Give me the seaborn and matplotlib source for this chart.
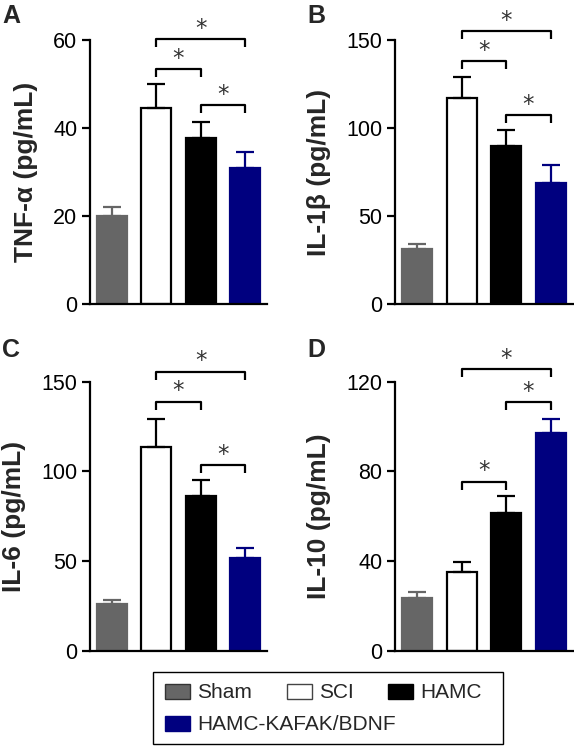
import matplotlib
matplotlib.use("Agg")
import matplotlib.pyplot as plt
from matplotlib.patches import Patch, Rectangle
import seaborn as sns
import pandas as pd

groups = ["Sham", "SCI", "HAMC", "HAMC-KAFAK/BDNF"]
colors = ["#666666", "#ffffff", "#000000", "#00007f"]
edges = ["#666666", "#000000", "#000000", "#00007f"]
err_colors = ["#666666", "#000000", "#000000", "#00007f"]

# panel values (mean, upper error end)
tnf_mean = [20.0, 44.5, 37.8, 30.8]
tnf_top = [22.0, 50.0, 41.3, 34.5]
il1b_mean = [31.0, 117.0, 89.5, 68.5]
il1b_top = [34.0, 129.0, 99.0, 79.0]
il6_mean = [26.0, 113.5, 86.5, 51.5]
il6_top = [28.5, 129.0, 95.0, 57.5]
il10_mean = [23.5, 35.0, 61.5, 97.0]
il10_top = [26.0, 39.5, 69.0, 103.5]

# significance brackets: (group i, group j, height)
tnf_sig = [(1, 3, 60.2), (1, 2, 53.4), (2, 3, 45.2)]
il1b_sig = [(1, 3, 155.0), (1, 2, 138.0), (2, 3, 107.4)]
il6_sig = [(1, 3, 155.6), (1, 2, 138.8), (2, 3, 103.5)]
il10_sig = [(1, 3, 125.5), (2, 3, 111.0), (1, 2, 75.4)]

panels = [
    ("A", "TNF-\u03b1 (pg/mL)", tnf_mean, tnf_top, tnf_sig, [0, 20, 40, 60]),
    ("B", "IL-1\u03b2 (pg/mL)", il1b_mean, il1b_top, il1b_sig, [0, 50, 100, 150]),
    ("C", "IL-6 (pg/mL)", il6_mean, il6_top, il6_sig, [0, 50, 100, 150]),
    ("D", "IL-10 (pg/mL)", il10_mean, il10_top, il10_sig, [0, 40, 80, 120]),
]

sns.set_theme(style="ticks")
plt.rcParams["font.family"] = ["Liberation Sans", "DejaVu Sans"]

fig = plt.figure(figsize=(5.74, 7.46), dpi=100)
W, H = 574, 746
boxes = [
    (90, 40, 177, 264),
    (395, 40, 178, 264),
    (90, 381.7, 177, 269),
    (395, 381.7, 178, 269),
]
letter_pos = [(2, 4), (307, 4), (2, 338), (307, 338)]

lw = 1.6
for (letter, ylabel, mean, top, sig, ticks), (x0, y0, w, h), (lx, ly) in zip(panels, boxes, letter_pos):
    ax = fig.add_axes([x0 / W, 1 - (y0 + h) / H, w / W, h / H])
    df = pd.DataFrame({"group": groups, "value": mean})
    sns.barplot(data=df, x="group", y="value", hue="group", palette=colors,
                order=groups, hue_order=groups, width=0.68, legend=False,
                errorbar=None, ax=ax, linewidth=lw, saturation=1)
    for p, ec in zip(ax.patches, edges):
        p.set_edgecolor(ec)
        p.set_linewidth(lw)
    for i in range(len(groups)):
        ax.errorbar(i, mean[i], yerr=[[0], [top[i] - mean[i]]], fmt="none",
                    ecolor=err_colors[i], elinewidth=lw, capsize=6.5,
                    capthick=lw, zorder=1)
    ymax = ticks[-1]
    drop = ymax * 0.03
    for i, j, yv in sig:
        ax.plot([i, i, j, j], [yv - drop, yv, yv, yv - drop], color="black",
                lw=lw, clip_on=False, solid_capstyle="butt")
        ax.annotate("*", ((i + j) / 2, yv), xytext=(0, -0.5), textcoords="offset points",
                    ha="center", va="bottom", fontsize=16.5, color="#333333",
                    family="DejaVu Sans", annotation_clip=False)
    ax.set_xlim(-0.5, 3.5)
    ax.set_ylim(0, ymax)
    ax.set_yticks(ticks)
    ax.set_yticklabels([str(t) for t in ticks], fontsize=15.5)
    ax.set_xticks([])
    ax.set_xlabel("")
    ax.set_ylabel(ylabel, fontsize=19, fontweight="bold", labelpad=11)
    ax.tick_params(axis="y", length=6, width=lw, pad=3, colors="black")
    sns.despine(ax=ax)
    for s in ("left", "bottom"):
        ax.spines[s].set_linewidth(lw)
        ax.spines[s].set_color("black")
    fig.text(lx / W, 1 - ly / H, letter, fontsize=18, fontweight="bold",
             ha="left", va="top")

# legend
handles = [Patch(facecolor=c, edgecolor=e, linewidth=1.0, label=g)
           for c, e, g in zip(colors, ["#333333", "#444444", "#000000", "#00007f"], groups)]
leg_kw = dict(frameon=False, fontsize=15, handlelength=1.2, handleheight=0.7,
              handletextpad=0.35, borderpad=0, borderaxespad=0, loc="center left")
leg1 = fig.legend(handles=handles[:3], ncol=3, columnspacing=1.65,
                  bbox_to_anchor=(165 / W, 1 - 693 / H), **leg_kw)
leg2 = fig.legend(handles=handles[3:], ncol=1,
                  bbox_to_anchor=(165 / W, 1 - 725 / H), **leg_kw)
fig.add_artist(Rectangle((153 / W, 1 - 744 / H), 350 / W, 72 / H,
                         transform=fig.transFigure, fill=False,
                         edgecolor="black", linewidth=1.0))

fig.savefig("out.png", dpi=100)
